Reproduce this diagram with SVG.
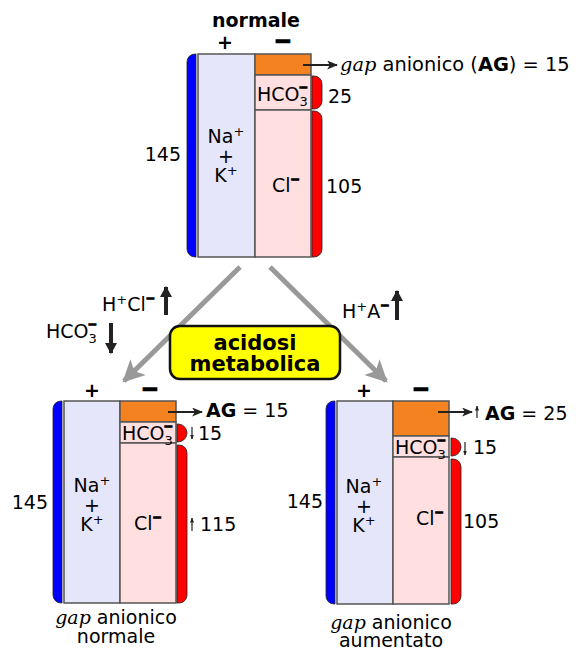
<svg xmlns="http://www.w3.org/2000/svg" width="576" height="650" viewBox="0 0 576 650">
<style>
text{font-family:"DejaVu Sans","Liberation Sans",sans-serif;font-size:19px;fill:#000}
.b{font-weight:bold}
.i{font-family:"DejaVu Serif","Liberation Serif",serif;font-style:italic}
.c{text-anchor:middle}
.e{text-anchor:end}
.cat{fill:#e6e6fa;stroke:#555;stroke-width:1.5}
.an{fill:#ffdfe0;stroke:#555;stroke-width:1.5}
.gap{fill:#f58220;stroke:#555;stroke-width:1.5}
.blue{fill:#0000ff;stroke:#222;stroke-width:0.8}
.red{fill:#ff0000;stroke:#222;stroke-width:0.8}
.ar{stroke:#222;stroke-width:2;fill:none}
.thin{stroke:#222;stroke-width:1.2;fill:none}
.big{stroke:#222;stroke-width:4;fill:none}
.gray{stroke:#999;stroke-width:5;fill:none}
.sup{font-weight:bold;font-size:11px;stroke:#000;stroke-width:1.3}
.minus{font-weight:bold;font-size:21px;stroke:#000;stroke-width:1.6}
.box{font-weight:bold;font-size:21px}
</style>
<defs>
<marker id="ah" viewBox="0 0 10 10" refX="9" refY="5" markerUnits="userSpaceOnUse" markerWidth="11" markerHeight="9" orient="auto" preserveAspectRatio="none"><path d="M0,0 L10,5 L0,10 L2.5,5 Z" fill="#222"/></marker>
<marker id="sm" viewBox="0 0 10 10" refX="9" refY="5" markerUnits="userSpaceOnUse" markerWidth="5" markerHeight="4" orient="auto" preserveAspectRatio="none"><path d="M0,0 L10,5 L0,10 Z" fill="#222"/></marker>
<marker id="bg" viewBox="0 0 10 10" refX="9" refY="5" markerUnits="userSpaceOnUse" markerWidth="11" markerHeight="12" orient="auto" preserveAspectRatio="none"><path d="M0,0 L10,5 L0,10 Z" fill="#222"/></marker>
<marker id="gh" viewBox="0 0 10 10" refX="9" refY="5" markerUnits="userSpaceOnUse" markerWidth="22" markerHeight="22" orient="auto" preserveAspectRatio="none"><path d="M0,0 L10,5 L0,10 L2.5,5 Z" fill="#999"/></marker>
</defs>

<text x="256" y="27" class="b c">normale</text>

<g id="chart-normale">
<path class="blue" d="M196,54 V257 H195 A8,8 0 0 1 187,249 V62 A8,8 0 0 1 195,54 Z"/>
<rect class="cat" x="198" y="54" width="57" height="203"/>
<rect class="gap" x="255" y="54" width="56" height="21"/>
<rect class="an" x="255" y="75" width="56" height="35"/>
<rect class="an" x="255" y="110" width="56" height="147"/>
<path class="red" d="M312,76 H314 A8,8 0 0 1 322,84 V101 A8,8 0 0 1 314,109 H312 Z"/>
<path class="red" d="M312,111 H314 A8,8 0 0 1 322,119 V249 A8,8 0 0 1 314,257 H312 Z"/>
<text x="225" y="49" class="b c">+</text>
<text x="283" y="48" class="c minus">−</text>
<text x="226" y="143" class="c">Na<tspan dy="-7" font-size="13">+</tspan></text>
<text x="226" y="163" class="c">+</text>
<text x="226" y="182" class="c">K<tspan dy="-7" font-size="13">+</tspan></text>
<text x="257" y="101">HCO<tspan dy="5" font-size="13">3</tspan><tspan dx="-9" dy="-15" class="sup">−</tspan></text>
<text x="272" y="192">Cl<tspan dy="-9" class="sup">−</tspan></text>
<text x="181" y="161" class="e">145</text>
<text x="328" y="103">25</text>
<text x="326" y="193">105</text>
<line class="ar" x1="303" y1="65" x2="337" y2="65" marker-end="url(#ah)"/>
<text x="340" y="71" style="font-size:19.4px"><tspan class="i">gap</tspan> anionico (<tspan class="b">AG</tspan>) = 15</text>
</g>

<g id="connectors">
<line class="gray" x1="240" y1="267" x2="124" y2="381" marker-end="url(#gh)"/>
<line class="gray" x1="270" y1="267" x2="386" y2="381" marker-end="url(#gh)"/>
<line class="big" x1="166" y1="315" x2="166" y2="287" marker-end="url(#bg)"/>
<line class="big" x1="111" y1="323" x2="111" y2="353" marker-end="url(#bg)"/>
<line class="big" x1="397" y1="320" x2="397" y2="291" marker-end="url(#bg)"/>
</g>

<g id="label-hcl">
<text x="102" y="311">H<tspan dy="-7" font-size="13">+</tspan><tspan dy="7">Cl</tspan><tspan dy="-9" class="sup">−</tspan></text>
</g>
<g id="label-hco3">
<text x="46" y="338">HCO<tspan dy="5" font-size="13">3</tspan><tspan dx="-9" dy="-15" class="sup">−</tspan></text>
</g>
<g id="label-ha">
<text x="342" y="318">H<tspan dy="-7" font-size="13">+</tspan><tspan dy="7">A</tspan><tspan dy="-9" class="sup">−</tspan></text>
</g>

<g id="acidosi">
<rect x="170" y="326" width="170" height="53" rx="10" fill="#ffff00" stroke="#111" stroke-width="2.5"/>
<text x="255" y="350" class="box c">acidosi</text>
<text x="255" y="371" class="box c">metabolica</text>
</g>

<g id="chart-normale-gap">
<path class="blue" d="M62,401 V603 H61 A8,8 0 0 1 53,595 V409 A8,8 0 0 1 61,401 Z"/>
<rect class="cat" x="64" y="401" width="56" height="202"/>
<rect class="gap" x="120" y="401" width="56" height="21"/>
<rect class="an" x="120" y="422" width="56" height="21"/>
<rect class="an" x="120" y="443" width="56" height="160"/>
<path class="red" d="M177,424 H178 A9,9 0 0 1 178,442 H177 Z"/>
<path class="red" d="M177,445 H179 A8,8 0 0 1 187,453 V595 A8,8 0 0 1 179,603 H177 Z"/>
<text x="92" y="397" class="b c">+</text>
<text x="150" y="396" class="c minus">−</text>
<text x="92" y="492" class="c">Na<tspan dy="-7" font-size="13">+</tspan></text>
<text x="92" y="512" class="c">+</text>
<text x="92" y="531" class="c">K<tspan dy="-7" font-size="13">+</tspan></text>
<text x="122" y="440">HCO<tspan dy="5" font-size="13">3</tspan><tspan dx="-9" dy="-15" class="sup">−</tspan></text>
<text x="134" y="530">Cl<tspan dy="-9" class="sup">−</tspan></text>
<text x="48" y="509" class="e">145</text>
<line class="thin" x1="192" y1="427" x2="192" y2="439" marker-end="url(#sm)"/>
<text x="198" y="440">15</text>
<line class="thin" x1="192" y1="531" x2="192" y2="518" marker-end="url(#sm)"/>
<text x="200" y="531">115</text>
<line class="ar" x1="168" y1="412" x2="202" y2="412" marker-end="url(#ah)"/>
<text x="206" y="417"><tspan class="b">AG</tspan> = 15</text>
<text x="116" y="624" class="c"><tspan class="i">gap</tspan> anionico</text>
<text x="116" y="643" class="c">normale</text>
</g>

<g id="chart-aumentato">
<path class="blue" d="M335,401 V604 H334 A8,8 0 0 1 326,596 V409 A8,8 0 0 1 334,401 Z"/>
<rect class="cat" x="337" y="401" width="56" height="203"/>
<rect class="gap" x="393" y="401" width="56" height="35"/>
<rect class="an" x="393" y="436" width="56" height="21"/>
<rect class="an" x="393" y="457" width="56" height="147"/>
<path class="red" d="M451,438 H452 A9,9 0 0 1 452,456 H451 Z"/>
<path class="red" d="M451,459 H453 A8,8 0 0 1 461,467 V596 A8,8 0 0 1 453,604 H451 Z"/>
<text x="364" y="397" class="b c">+</text>
<text x="421" y="396" class="c minus">−</text>
<text x="364" y="493" class="c">Na<tspan dy="-7" font-size="13">+</tspan></text>
<text x="364" y="513" class="c">+</text>
<text x="364" y="532" class="c">K<tspan dy="-7" font-size="13">+</tspan></text>
<text x="395" y="454">HCO<tspan dy="5" font-size="13">3</tspan><tspan dx="-9" dy="-15" class="sup">−</tspan></text>
<text x="416" y="525">Cl<tspan dy="-9" class="sup">−</tspan></text>
<text x="323" y="508" class="e">145</text>
<line class="thin" x1="465" y1="442" x2="465" y2="455" marker-end="url(#sm)"/>
<text x="473" y="454">15</text>
<text x="463" y="528">105</text>
<line class="ar" x1="438" y1="412" x2="472" y2="412" marker-end="url(#ah)"/>
<line class="thin" x1="477" y1="418" x2="477" y2="406" marker-end="url(#sm)"/>
<text x="485" y="420"><tspan class="b">AG</tspan> = 25</text>
<text x="391" y="629" class="c"><tspan class="i">gap</tspan> anionico</text>
<text x="391" y="647" class="c">aumentato</text>
</g>
</svg>
